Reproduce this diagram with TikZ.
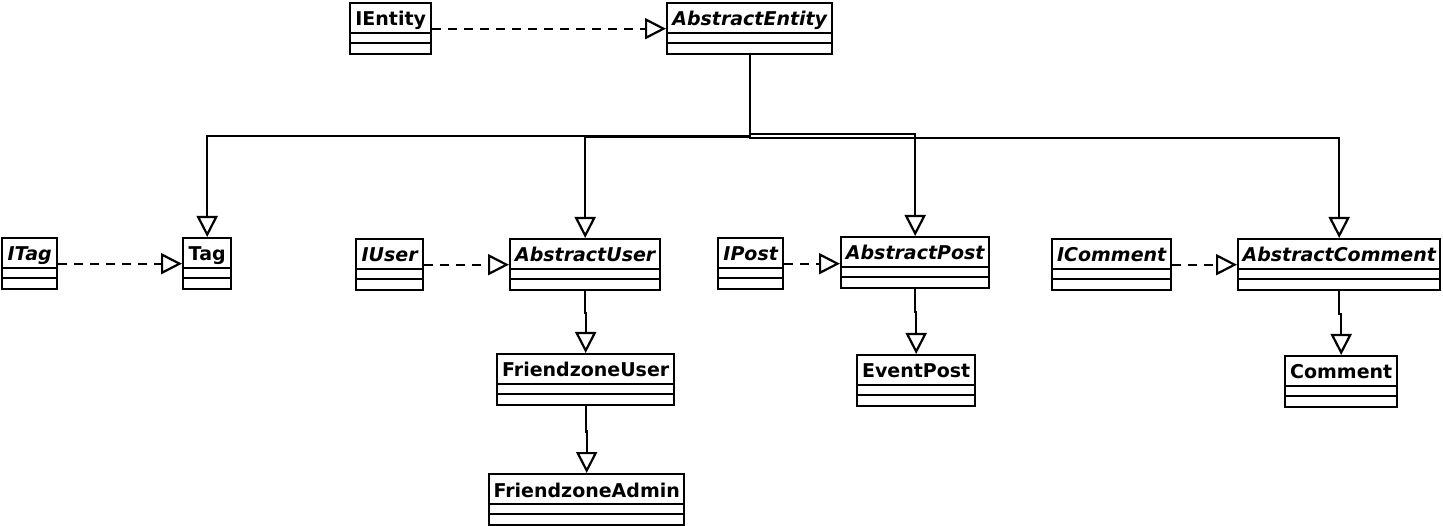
\documentclass[tikz,border=0pt]{standalone}
\usepackage{fontspec}
\setmainfont{DejaVu Sans}
\usetikzlibrary{arrows.meta}

\tikzset{
  classbox/.style={draw, line width=2.4pt, rectangle, inner sep=0pt, minimum height=51pt, anchor=north west},
  classname/.style={font=\fontsize{19}{21}\selectfont\bfseries, inner sep=0pt, anchor=base},
  gen/.style={line width=2.2pt, -{Triangle[open, length=21pt, width=21pt]}},
  real/.style={gen, dash pattern=on 9pt off 7pt},
}

% name, left, top, width, title
\newcommand{\umlclass}[5]{%
  \node[classbox, minimum width=#4pt] (#1) at (#2,#3) {};
  \node[classname] (#1-name) at ([yshift=-24pt]#1.north) {#5};
  \draw[line width=2.4pt] ([yshift=-31pt]#1.north west) -- ([yshift=-31pt]#1.north east)
    ([yshift=-41pt]#1.north west) -- ([yshift=-41pt]#1.north east);
}

\begin{document}
\begin{tikzpicture}[x=1pt,y=-1pt]
  \useasboundingbox (0,0) rectangle (1443,526);

  % top row
  \umlclass{IEntity}{349}{2}{81}{IEntity}
  \umlclass{AbstractEntity}{666}{2}{165}{\itshape AbstractEntity}

  % middle row
  \umlclass{ITag}{1}{237}{55}{\itshape ITag}
  \umlclass{Tag}{182}{237}{48}{Tag}
  \umlclass{IUser}{355}{238}{67}{\itshape IUser}
  \umlclass{AbstractUser}{509}{238}{150}{\itshape AbstractUser}
  \umlclass{IPost}{717}{237}{65}{\itshape IPost}
  \umlclass{AbstractPost}{840}{236}{148}{\itshape AbstractPost}
  \umlclass{IComment}{1051}{238}{119}{\itshape IComment}
  \umlclass{AbstractComment}{1237}{238}{202}{\itshape AbstractComment}

  % lower rows
  \umlclass{FriendzoneUser}{496}{353}{177}{FriendzoneUser}
  \umlclass{EventPost}{856}{354}{118}{EventPost}
  \umlclass{Comment}{1284}{355}{112}{Comment}
  \umlclass{FriendzoneAdmin}{488}{473}{195}{FriendzoneAdmin}

  % realizations
  \draw[real] (IEntity.east) -- (AbstractEntity.west);
  \draw[real] (ITag.east) -- (Tag.west);
  \draw[real] (IUser.east) -- (AbstractUser.west);
  \draw[real] (IPost.east) -- (IPost.east -| AbstractPost.west);
  \draw[real] (IComment.east) -- (AbstractComment.west);

  % generalizations
  \draw[gen] (AbstractEntity.south) -- ++(0,81) -| (Tag.north);
  \draw[gen] (AbstractEntity.south) -- ++(0,82) -| (AbstractUser.north);
  \draw[gen] (AbstractEntity.south) -- ++(0,79) -| (AbstractPost.north);
  \draw[gen] (AbstractEntity.south) -- ++(0,83) -| (AbstractComment.north);
  \draw[gen] (AbstractUser.south) -- ++(0,22) -| (FriendzoneUser.north);
  \draw[gen] (FriendzoneUser.south) -- ++(0,25) -| (FriendzoneAdmin.north);
  \draw[gen] (AbstractPost.south) -- ++(0,23) -| (EventPost.north);
  \draw[gen] (AbstractComment.south) -- ++(0,23) -| (Comment.north);
\end{tikzpicture}
\end{document}
